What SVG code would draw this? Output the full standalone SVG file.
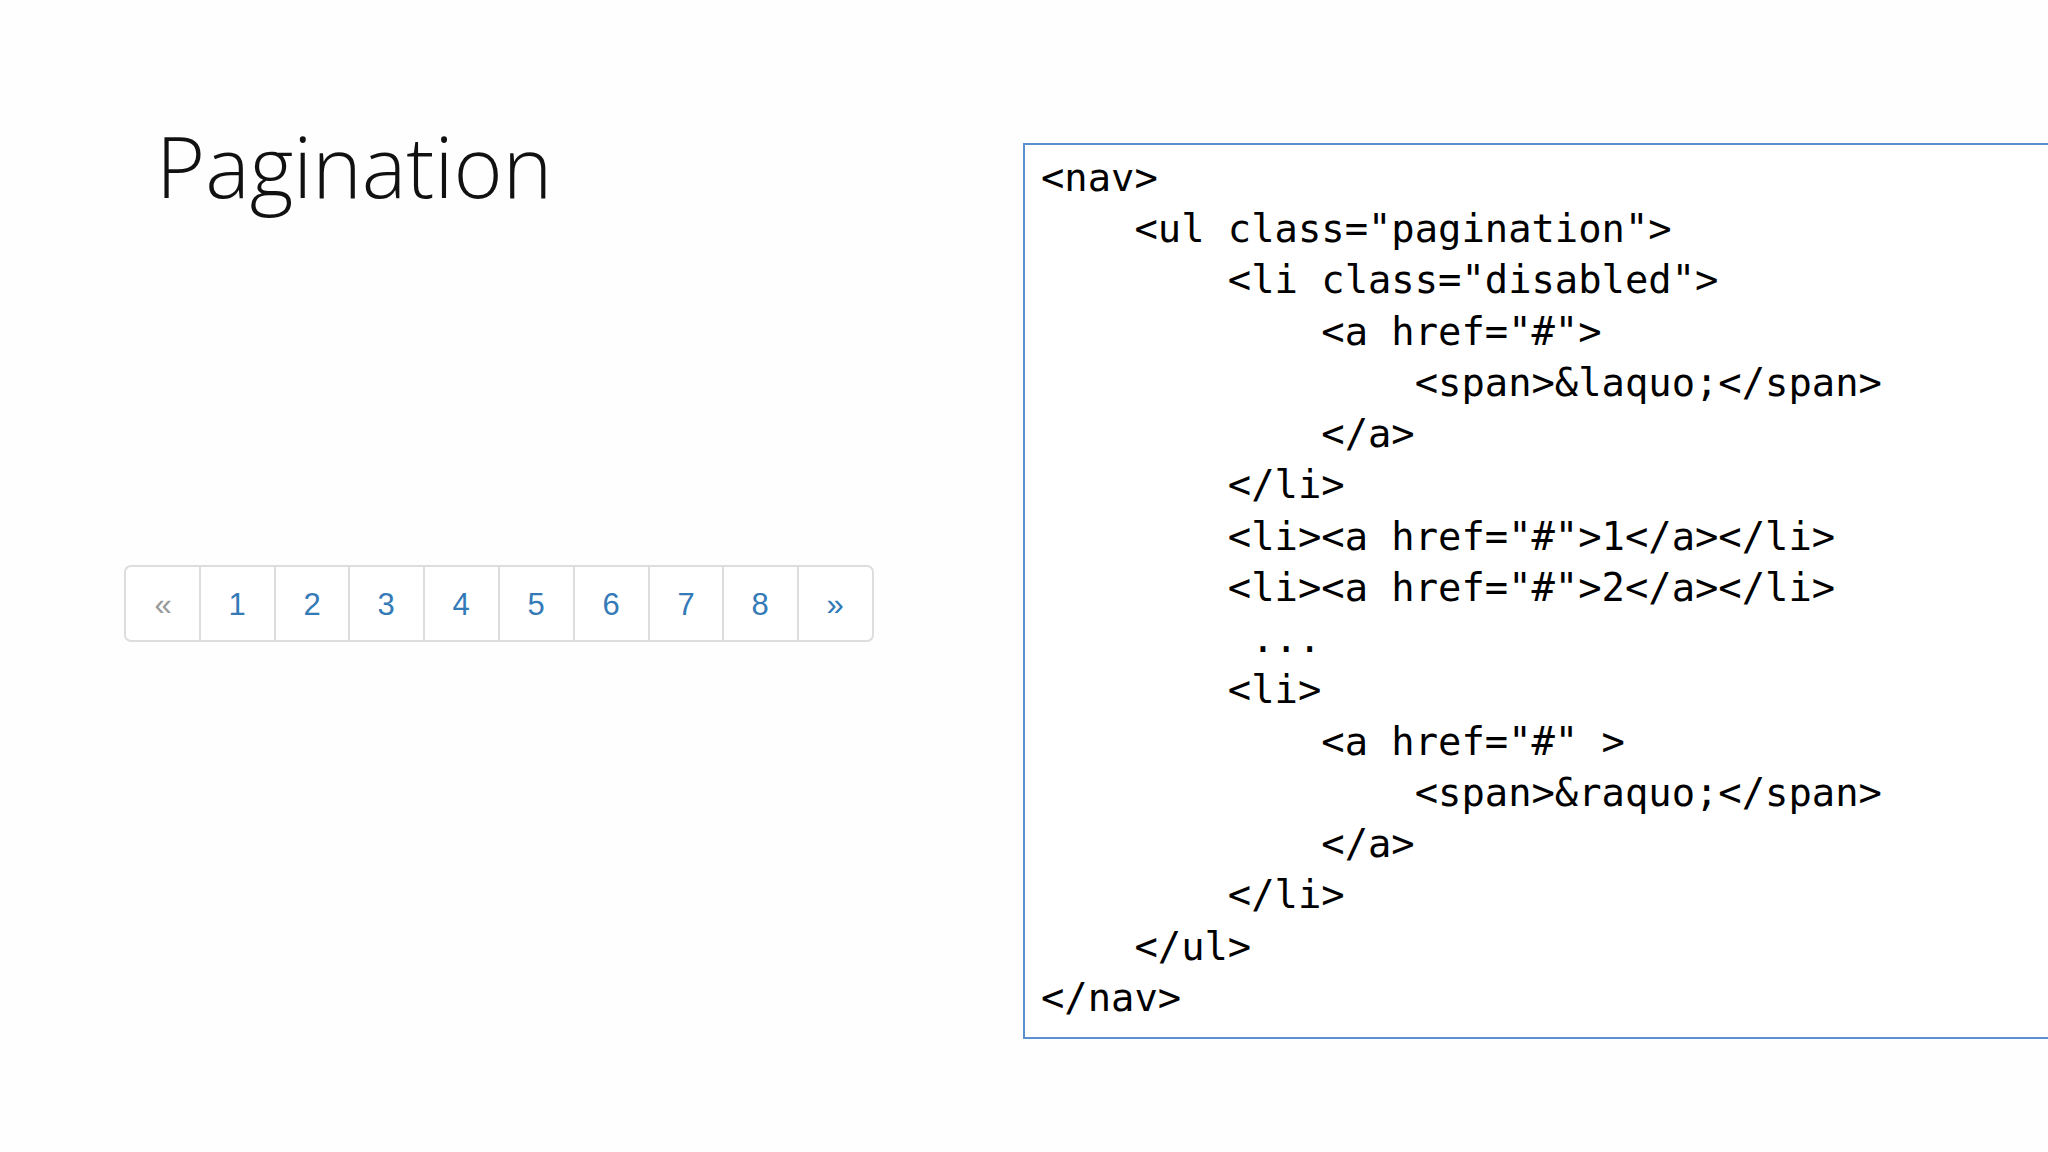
<svg xmlns="http://www.w3.org/2000/svg" width="2048" height="1152" viewBox="0 0 2048 1152">
<style>
.code{font-family:"DejaVu Sans Mono","Liberation Mono",monospace;font-size:38.8px;fill:#000;white-space:pre}
.pg{font-family:"Liberation Sans",Arial,sans-serif;font-size:31px;fill:#337ab7;text-anchor:middle}
.div{stroke:#dddddd;stroke-width:2}
</style>
<rect width="2048" height="1152" fill="#fefefe"/>
<g id="title"><text x="156" y="198" font-family="Open Sans, sans-serif" font-weight="300" font-size="84" fill="#111">Pagination</text></g>
<g id="pagination">
<rect x="125" y="566" width="748" height="75" rx="6" fill="#fff" stroke="#dddddd" stroke-width="2"/>
<g class="div">
<line x1="200" y1="566" x2="200" y2="641"/><line x1="275" y1="566" x2="275" y2="641"/><line x1="349" y1="566" x2="349" y2="641"/><line x1="424" y1="566" x2="424" y2="641"/><line x1="499" y1="566" x2="499" y2="641"/><line x1="574" y1="566" x2="574" y2="641"/><line x1="649" y1="566" x2="649" y2="641"/><line x1="723" y1="566" x2="723" y2="641"/><line x1="798" y1="566" x2="798" y2="641"/>
</g>
<text class="pg" x="163" y="615" style="fill:#999">«</text>
<text class="pg" x="237" y="615">1</text><text class="pg" x="312" y="615">2</text><text class="pg" x="386" y="615">3</text><text class="pg" x="461" y="615">4</text><text class="pg" x="536" y="615">5</text><text class="pg" x="611" y="615">6</text><text class="pg" x="686" y="615">7</text><text class="pg" x="760" y="615">8</text><text class="pg" x="835" y="615">»</text>
</g>
<g id="code">
<rect x="1024" y="144" width="1030" height="894" fill="#fff" stroke="#5b8fd0" stroke-width="2"/>
<text class="code" x="1041" y="191">&lt;nav&gt;</text>
<text class="code" x="1041" y="242">    &lt;ul class="pagination"&gt;</text>
<text class="code" x="1041" y="293">        &lt;li class="disabled"&gt;</text>
<text class="code" x="1041" y="345">            &lt;a href="#"&gt;</text>
<text class="code" x="1041" y="396">                &lt;span&gt;&amp;laquo;&lt;/span&gt;</text>
<text class="code" x="1041" y="447">            &lt;/a&gt;</text>
<text class="code" x="1041" y="498">        &lt;/li&gt;</text>
<text class="code" x="1041" y="550">        &lt;li&gt;&lt;a href="#"&gt;1&lt;/a&gt;&lt;/li&gt;</text>
<text class="code" x="1041" y="601">        &lt;li&gt;&lt;a href="#"&gt;2&lt;/a&gt;&lt;/li&gt;</text>
<text class="code" x="1041" y="652">         ...</text>
<text class="code" x="1041" y="703">        &lt;li&gt;</text>
<text class="code" x="1041" y="755">            &lt;a href="#" &gt;</text>
<text class="code" x="1041" y="806">                &lt;span&gt;&amp;raquo;&lt;/span&gt;</text>
<text class="code" x="1041" y="857">            &lt;/a&gt;</text>
<text class="code" x="1041" y="908">        &lt;/li&gt;</text>
<text class="code" x="1041" y="960">    &lt;/ul&gt;</text>
<text class="code" x="1041" y="1011">&lt;/nav&gt;</text>
</g>
</svg>
